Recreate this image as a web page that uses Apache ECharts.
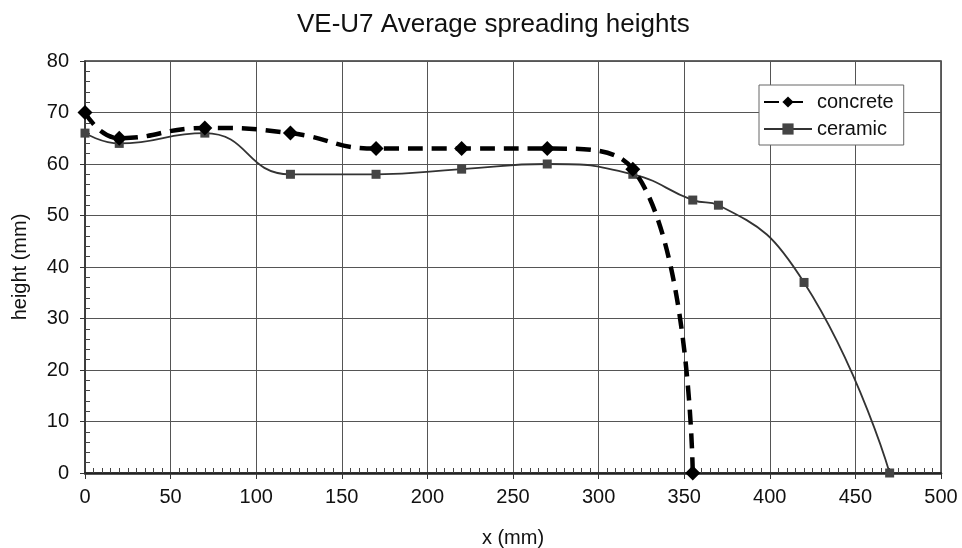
<!DOCTYPE html>
<html>
<head>
<meta charset="utf-8">
<script src="https://cdn.jsdelivr.net/npm/echarts@6/dist/echarts.min.js"></script>
<style>html,body{margin:0;padding:0;background:#fff}#c{width:962px;height:548px}</style>
</head>
<body>
<div id="c"></div>
<script>
var titleText = 'VE-U7 Average spreading heights';
var concreteX = [0, 20, 70, 120, 170, 220, 270, 320, 355];
var concreteY = [70, 65, 67, 66, 63, 63, 63, 59, 0];
var ceramicX = [0, 20, 70, 120, 170, 220, 270, 320, 355, 370, 420, 470];
var ceramicY = [66, 64, 66, 58, 58, 59, 60, 58, 53, 52, 37, 0];

function pairs(xs, ys) { return xs.map(function (x, i) { return [x, ys[i]]; }); }

var font = 'Liberation Sans, Arial, sans-serif';
var chart = echarts.init(document.getElementById('c'), null, {renderer: 'canvas'});
chart.setOption({
  animation: false,
  title: {text: titleText, left: 292, top: 7,
    textStyle: {fontFamily: font, fontSize: 26, fontWeight: 'normal', color: '#111'}},
  grid: {left: 85, right: 21, top: 61, bottom: 75, show: true, borderColor: '#333', borderWidth: 1.5,
    containLabel: false, outerBoundsMode: 'none'},
  legend: {
    orient: 'vertical', left: 759, top: 85, itemWidth: 48, itemHeight: 14, itemGap: 7,
    padding: [7, 10, 6, 4], borderColor: '#666', borderWidth: 1, backgroundColor: '#fff',
    textStyle: {fontFamily: font, fontSize: 20, color: '#111'},
    data: ['concrete', 'ceramic']
  },
  xAxis: [{
    type: 'value', min: 0, max: 500, interval: 50,
    name: 'x (mm)', nameLocation: 'middle', nameGap: 55,
    nameTextStyle: {fontFamily: font, fontSize: 20, color: '#111'},
    axisLine: {lineStyle: {color: '#222', width: 2.5}},
    axisTick: {show: true, length: 6, lineStyle: {color: '#333'}},
    axisLabel: {fontFamily: font, fontSize: 20, color: '#111', margin: 14},
    splitLine: {show: true, lineStyle: {color: '#555', width: 1}}
  }, {
    type: 'value', min: 0, max: 500, interval: 50, position: 'bottom',
    axisLine: {show: false}, axisLabel: {show: false}, splitLine: {show: false},
    axisTick: {show: false, inside: true},
    minorTick: {show: true, splitNumber: 10, length: 5, lineStyle: {color: '#444', width: 1}}
  }],
  yAxis: [{
    type: 'value', min: 0, max: 80, interval: 10,
    name: 'height (mm)', nameLocation: 'middle', nameGap: 55, nameRotate: 90,
    nameTextStyle: {fontFamily: font, fontSize: 20, color: '#111'},
    axisLine: {show: true, lineStyle: {color: '#333', width: 1.5}},
    axisTick: {show: true, length: 5, lineStyle: {color: '#333'}},
    axisLabel: {fontFamily: font, fontSize: 20, color: '#111', margin: 16},
    splitLine: {show: true, lineStyle: {color: '#555', width: 1}}
  }, {
    type: 'value', min: 0, max: 80, interval: 10, position: 'left',
    axisLine: {show: false}, axisLabel: {show: false}, splitLine: {show: false},
    axisTick: {show: false, inside: true},
    minorTick: {show: true, splitNumber: 5, length: 5, lineStyle: {color: '#444', width: 1}}
  }],
  series: [{
    name: 'concrete', type: 'line', data: pairs(concreteX, concreteY), smooth: 0.5,
    symbol: 'diamond', symbolSize: 15,
    lineStyle: {color: '#000', width: 4.5, type: [15, 9]},
    itemStyle: {color: '#000'}, z: 3
  }, {
    name: 'ceramic', type: 'line', data: pairs(ceramicX, ceramicY), smooth: 0.5,
    symbol: 'rect', symbolSize: 9,
    lineStyle: {color: '#333', width: 1.8},
    itemStyle: {color: '#444'}, z: 2
  }]
});
</script>
</body>
</html>
